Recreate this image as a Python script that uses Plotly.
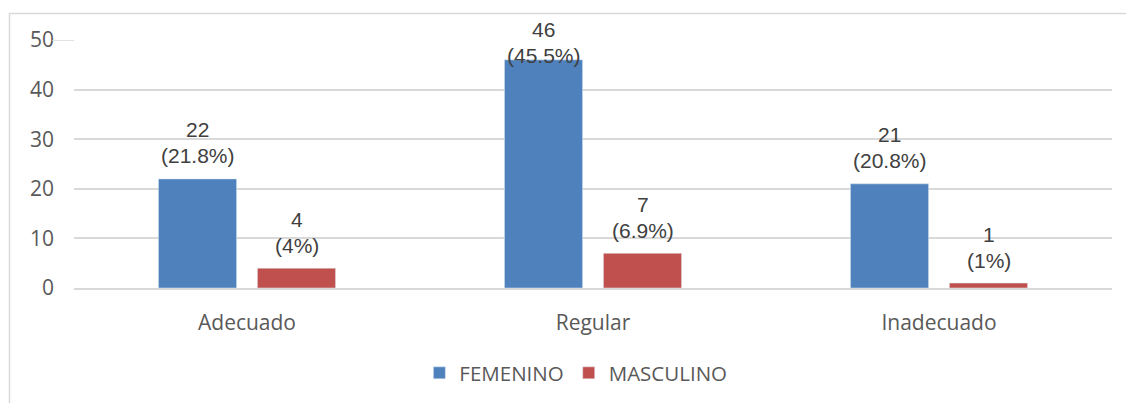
import plotly.graph_objects as go

categories = ["Adecuado", "Regular", "Inadecuado"]
femenino = [22, 46, 21]
masculino = [4, 7, 1]
fem_pct = ["21.8%", "45.5%", "20.8%"]
mas_pct = ["4%", "6.9%", "1%"]
y_ticks = [0, 10, 20, 30, 40, 50]

BLUE = "#4F81BD"
RED = "#C0504D"
GRID = "#D9D9D9"
TXT = "#595959"

fig = go.Figure()
fig.add_trace(go.Bar(name="FEMENINO", x=categories, y=femenino, marker_color=BLUE))
fig.add_trace(go.Bar(name="MASCULINO", x=categories, y=masculino, marker_color=RED))

PX_PER_UNIT = 248 / 50.0
annotations = []
for vals, pcts, xs in [(femenino, fem_pct, -49.5), (masculino, mas_pct, 49.5)]:
    for c, v, p in zip(categories, vals, pcts):
        ys = min(23, 233 - v * PX_PER_UNIT)
        annotations.append(dict(x=c, y=v, xref="x", yref="y", xshift=xs, yshift=ys,
                                text="(" + p + ")", showarrow=False, yanchor="middle",
                                font=dict(family="Liberation Sans", size=21, color="#404040")))
        annotations.append(dict(x=c, y=v, xref="x", yref="y", xshift=xs, yshift=ys + 26,
                                text=str(v), showarrow=False, yanchor="middle",
                                font=dict(family="Liberation Sans", size=21, color="#404040")))

L, R, T, B = 74, 14, 40, 115
W, H = 1126, 403
pw, ph = W - L - R, H - T - B

shapes = [
    dict(type="rect", xref="paper", yref="paper",
         x0=(9.5 - L) / pw, x1=(W + 5 - L) / pw,
         y0=-(B + 10) / ph, y1=(H - B - 13.5) / ph,
         line=dict(color=GRID, width=1.5), fillcolor="rgba(0,0,0,0)", layer="below"),
    dict(type="line", xref="paper", yref="y", x0=(52 - L) / pw, x1=0, y0=50, y1=50,
         line=dict(color=GRID, width=1.5)),
]

fig.update_layout(
    width=W, height=H,
    margin=dict(l=L, r=R, t=T, b=B, autoexpand=False),
    paper_bgcolor="white", plot_bgcolor="white",
    barmode="group", bargap=0.428, bargroupgap=0.21,
    font=dict(family="Open Sans", size=20, color=TXT),
    showlegend=True,
    legend=dict(orientation="h", x=0.4835, xanchor="center", y=-(373 - 288) / ph,
                yanchor="middle", font=dict(family="Open Sans", size=20.5, color=TXT),
                bgcolor="rgba(0,0,0,0)"),
    annotations=annotations,
    shapes=shapes,
)
fig.update_xaxes(showgrid=False, showline=True, linecolor=GRID, linewidth=1.5, automargin=False,
                 ticks="", ticklabelstandoff=15, tickfont=dict(family="Open Sans", size=21, color=TXT))
fig.update_yaxes(range=[0, 50], tickvals=y_ticks, showgrid=True, gridcolor=GRID, gridwidth=1.5,
                 zeroline=False, showline=False, ticks="", ticklabelstandoff=19, automargin=False,
                 tickfont=dict(family="Open Sans", size=21, color=TXT))

fig.write_html("out.html", config={"displayModeBar": False},
               post_script="document.body.style.margin='0';document.body.style.overflow='hidden';")
